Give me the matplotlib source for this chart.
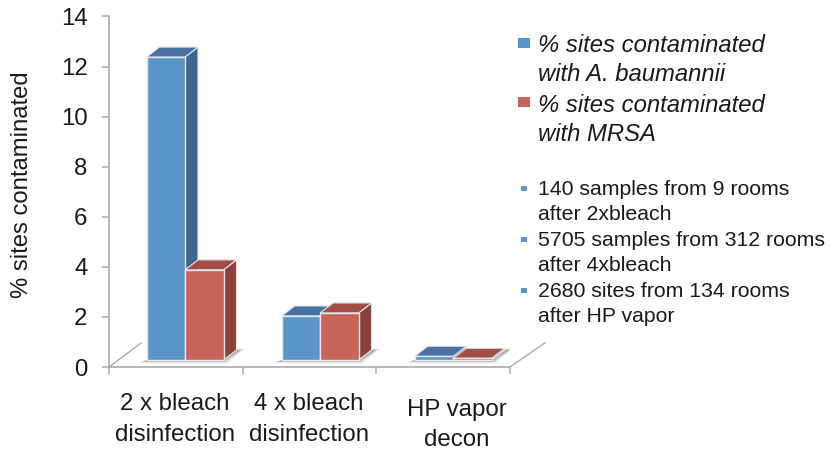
import matplotlib
matplotlib.use("Agg")
import matplotlib.pyplot as plt
from matplotlib.patches import Polygon, Rectangle

plt.rcParams["font.family"] = ["Liberation Sans", "DejaVu Sans"]

categories = ["2 x bleach\ndisinfection", "4 x bleach\ndisinfection", "HP vapor\ndecon"]
baumannii = [12.1, 1.76, 0.15]
mrsa = [3.6, 1.88, 0.07]
yticks = [0, 2, 4, 6, 8, 10, 12, 14]
legend_big = ["% sites contaminated\nwith A. baumannii", "% sites contaminated\nwith MRSA"]
legend_small = ["140 samples from 9 rooms\nafter 2xbleach",
                "5705 samples from 312 rooms\nafter 4xbleach",
                "2680 sites from 134 rooms\nafter HP vapor"]

W, H = 830, 451
AX_L, AX_R, AX_T, AX_B = 109, 510, 16.5, 367

BLUE = ("#5B96CB", "#3F6690", "#4A71A1")
RED = ("#C8645A", "#8B423B", "#A24E47")
EDGE = "#E4E8EE"
GRAY = "#ABABAB"
TEXT = "#1A1A1A"

# bar geometry in data units
BAR_W = 0.288
DX = 0.097
DY = 0.40
FLOOR = 0.28
GROUP_OFF = [0.281, 0.292, 0.288]
LABEL_POS = [0.495, 1.495, 2.6]


def px(x, y):
    return x / W, 1 - y / H


fig = plt.figure(figsize=(8.3, 4.51), dpi=100)
ax = fig.add_axes([AX_L / W, 1 - AX_B / H, (AX_R - AX_L) / W, (AX_B - AX_T) / H])
ax.set_xlim(0, 3)
ax.set_ylim(0, 14)
ax.patch.set_visible(False)
ax.spines["top"].set_visible(False)
ax.spines["right"].set_visible(False)
for s in ["left", "bottom"]:
    ax.spines[s].set_color(GRAY)
    ax.spines[s].set_linewidth(1.2)

ax.set_yticks(yticks)
ax.tick_params(axis="y", length=5, width=1.1, color=GRAY, labelsize=17.3, labelcolor=TEXT, pad=10.5)
ax.set_xticks([0, 1, 2, 3])
ax.set_xticklabels([])
ax.set_xticks(LABEL_POS, minor=True)
ax.set_xticklabels(categories, minor=True, fontsize=17.3, color=TEXT, linespacing=1.5)
ax.tick_params(axis="x", which="major", length=5, width=1.1, color=GRAY)
ax.tick_params(axis="x", which="minor", length=0, pad=19)
ax.xaxis.get_minor_ticks()[2].set_pad(23)
ax.set_ylabel("% sites contaminated", fontsize=17.2, color=TEXT)
ax.yaxis.set_label_coords(-0.19, 0.52)

# floor edges of the 3D box
ax.plot([0, 0.24], [0, 0.96], color=GRAY, lw=1.0, clip_on=False)
ax.plot([3, 3.26], [0, 0.96], color=GRAY, lw=1.0, clip_on=False)


def shadow(x0, x1):
    for grow, a in [(0.03, 0.14), (0.015, 0.22), (0.0, 0.38)]:
        ax.add_patch(Polygon([(x0 - 0.03 - grow, FLOOR - 0.06 - grow * 2), (x1 + grow, FLOOR - 0.06 - grow * 2),
                              (x1 + 0.13 + grow, FLOOR + DY + grow * 2), (x1 + DX, FLOOR + DY + grow * 2),
                              (x1, FLOOR), (x0, FLOOR)],
                             facecolor="#707070", edgecolor="none", alpha=a, zorder=1))


def bar3d(x, val, cols, z):
    top = FLOOR + val
    ax.bar(x, val, width=BAR_W, bottom=FLOOR, align="edge", color=cols[0],
           edgecolor=EDGE, linewidth=1.0, zorder=z + 0.2)
    ax.add_patch(Polygon([(x + BAR_W, FLOOR), (x + BAR_W + DX, FLOOR + DY),
                          (x + BAR_W + DX, top + DY), (x + BAR_W, top)],
                         facecolor=cols[1], edgecolor=EDGE, linewidth=0.8, zorder=z))
    ax.add_patch(Polygon([(x, top), (x + DX, top + DY), (x + BAR_W + DX, top + DY), (x + BAR_W, top)],
                         facecolor=cols[2], edgecolor=EDGE, linewidth=0.8, zorder=z + 0.1))


for i in range(len(categories)):
    x0 = i + GROUP_OFF[i]
    x1 = x0 + BAR_W
    shadow(x0, x1 + BAR_W)
    bar3d(x0, baumannii[i], BLUE, 2)
    bar3d(x1, mrsa[i], RED, 3)

# legend drawn by hand, the source is a slide with a text box next to it
for (y, col) in [(48, BLUE[0]), (107, RED[0])]:
    x, yy = px(518, y)
    fig.add_artist(Rectangle((x, yy), 12 / W, 10 / H, transform=fig.transFigure,
                             facecolor=col, edgecolor="none"))
for (y, label) in [(34, legend_big[0]), (94, legend_big[1])]:
    x, yy = px(538, y)
    fig.text(x, yy, label, fontsize=17.2, style="italic", color=TEXT, va="top", linespacing=1.32)

for (y, label) in [(191, legend_small[0]), (242, legend_small[1]), (293, legend_small[2])]:
    x, yy = px(521, y)
    fig.add_artist(Rectangle((x, yy), 6 / W, 5 / H, transform=fig.transFigure,
                             facecolor=BLUE[0], edgecolor="none"))
    x, yy = px(538, y - 11)
    fig.text(x, yy, label, fontsize=15.3, color=TEXT, va="top", linespacing=1.37)

fig.savefig("out.png", dpi=100)
